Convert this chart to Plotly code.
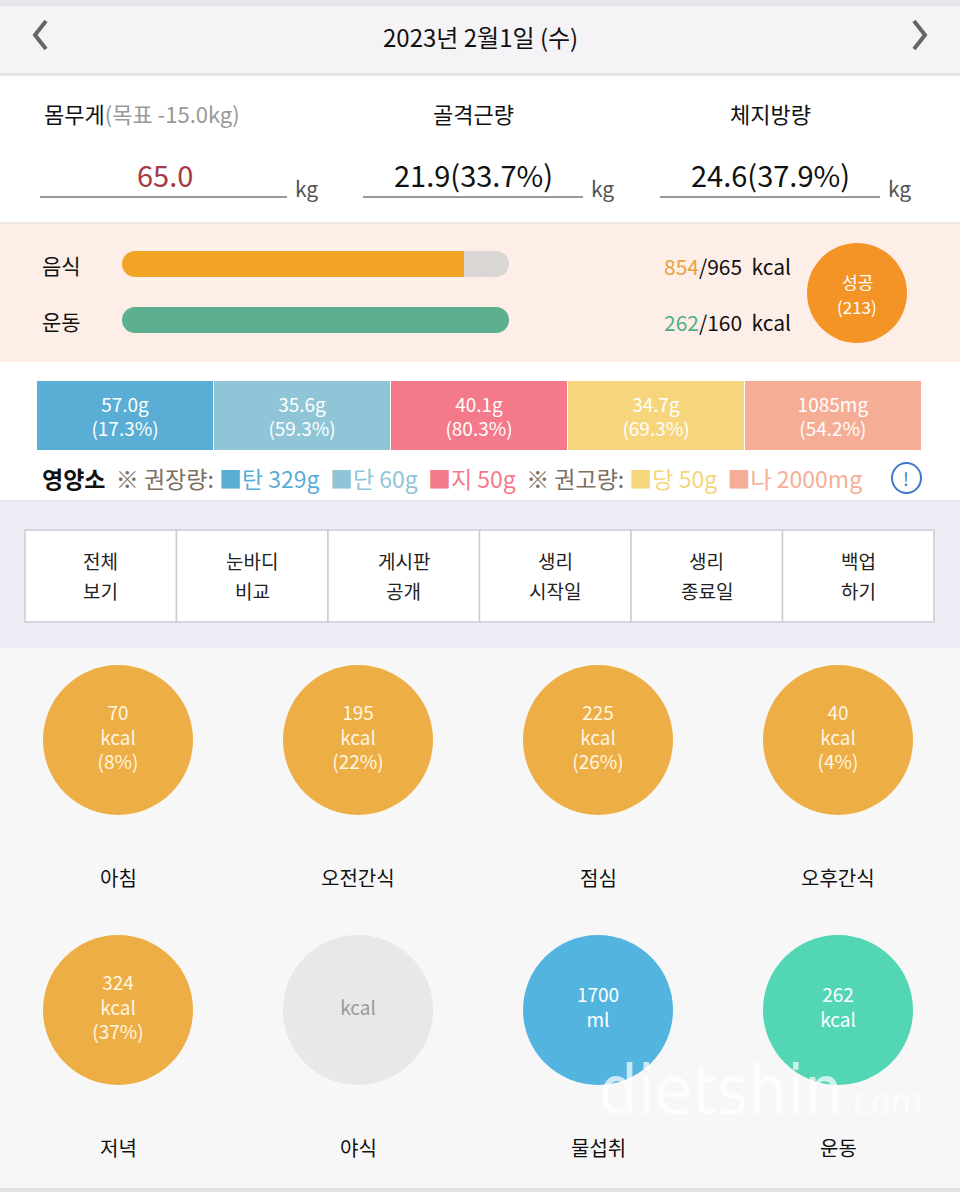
import plotly.graph_objects as go

W, H = 960, 1192
FONT = "Noto Sans CJK KR"

# ---- data ----
date_label = "2023년 2월1일 (수)"
body_labels = ["몸무게", "골격근량", "체지방량"]
goal_note = "(목표 -15.0kg)"
body_values = ["65.0", "21.9(33.7%)", "24.6(37.9%)"]
body_value_colors = ["#a63a48", "#111111", "#111111"]

intake_labels = ["음식", "운동"]
intake_actual = [854, 262]
intake_target = [965, 160]
intake_colors = ["#f2a424", "#5cb08f"]
success_label = "성공"
success_score = 213

nutr_names = ["탄", "단", "지", "당", "나"]
nutr_amounts = ["57.0g", "35.6g", "40.1g", "34.7g", "1085mg"]
nutr_pct = [17.3, 59.3, 80.3, 69.3, 54.2]
nutr_recommend = ["329g", "60g", "50g", "50g", "2000mg"]
nutr_colors = ["#5aaed5", "#8fc5d7", "#f47a8b", "#f6d57d", "#f5ae95"]

menu_top = ["전체", "눈바디", "게시판", "생리", "생리", "백업"]
menu_bottom = ["보기", "비교", "공개", "시작일", "종료일", "하기"]

slot_labels = ["아침", "오전간식", "점심", "오후간식", "저녁", "야식", "물섭취", "운동"]
slot_kind = ["meal", "meal", "meal", "meal", "meal", "meal", "water", "exercise"]
slot_values = [70, 195, 225, 40, 324, None, 1700, 262]
slot_pct = [8, 22, 26, 4, 37, None, None, None]

fig = go.Figure()
shapes = []
ann = []


def text(x, y, s, size=18, color="#111", xanchor="center", **kw):
    ann.append(dict(x=x, y=y, text=s, showarrow=False, xanchor=xanchor,
                    yanchor="middle", font=dict(family=FONT, size=size, color=color), **kw))


def rect(x0, y0, x1, y1, fill, line=None, lw=0):
    shapes.append(dict(type="rect", x0=x0, y0=y0, x1=x1, y1=y1, fillcolor=fill,
                       line=dict(color=line or fill, width=lw), layer="below"))


# ---- section backgrounds ----
rect(0, 0, W, 6, "#e8e6ea")
rect(0, 6, W, 73, "#f6f3f6")
rect(0, 73, W, 76, "#e6e3e7")
rect(0, 76, W, 222, "#ffffff")
rect(0, 222, W, 224, "#efe7e2")
rect(0, 224, W, 362, "#fdefe8")
rect(0, 362, W, 500, "#ffffff")
rect(0, 500, W, 502, "#e9e9ee")
rect(0, 502, W, 648, "#edeef6")
rect(0, 648, W, 1188, "#f7f7f7")
rect(0, 1188, W, H, "#e2e2e2")

# ---- header ----
text(480, 36, date_label, size=24)
shapes.append(dict(type="path", path="M 46 21 L 35 35 L 46 49", line=dict(color="#666", width=4)))
shapes.append(dict(type="path", path="M 914 21 L 925 35 L 914 49", line=dict(color="#666", width=4)))

# ---- body composition ----
col_x = [165, 473, 770]
line_x = [(40, 287), (363, 583), (660, 880)]
for i in range(3):
    lab = body_labels[i]
    if i == 0:
        text(42, 113, lab + "<span style='color:#999'>" + goal_note + "</span>", size=22, xanchor="left")
    else:
        text(col_x[i], 113, lab, size=22)
    text(col_x[i], 174, body_values[i], size=29, color=body_value_colors[i])
    shapes.append(dict(type="line", x0=line_x[i][0], x1=line_x[i][1], y0=197, y1=197,
                       line=dict(color="#777", width=1.5)))
    text(line_x[i][1] + 19, 188, "kg", size=21, color="#555")

# ---- food / exercise progress ----
bar_y = [264, 320]
r = 13 / 387
for i in range(2):
    frac = intake_actual[i] / intake_target[i]
    end = min(frac, 1 - r)
    fig.add_trace(go.Bar(x=[end - r], base=[r], y=[bar_y[i]], orientation="h", width=26,
                         marker=dict(color=intake_colors[i], line=dict(width=0)),
                         xaxis="x2", yaxis="y", hoverinfo="skip", showlegend=False))
    ends_x, ends_c = [r], [intake_colors[i]]
    if frac < 1:
        fig.add_trace(go.Bar(x=[1 - r - end], base=[end], y=[bar_y[i]], orientation="h", width=26,
                             marker=dict(color="#d9d6d3", line=dict(width=0)),
                             xaxis="x2", yaxis="y", hoverinfo="skip", showlegend=False))
        ends_c.append("#d9d6d3")
    else:
        ends_c.append(intake_colors[i])
    ends_x.append(1 - r)
    fig.add_trace(go.Scatter(x=ends_x, y=[bar_y[i]] * 2, mode="markers", xaxis="x2", yaxis="y",
                             marker=dict(size=26, color=ends_c, line=dict(width=0)),
                             hoverinfo="skip", showlegend=False))
    text(40, bar_y[i] + 1, intake_labels[i], size=21, xanchor="left")
    num_color = "#e8a33a" if i == 0 else "#4fae8a"
    text(793, bar_y[i] + 2,
         f"<span style='color:{num_color}'>{intake_actual[i]}</span>/{intake_target[i]}  kcal",
         size=21, xanchor="right")

fig.add_trace(go.Scatter(x=[857], y=[293], mode="markers",
                         marker=dict(size=100, color="#f59426", line=dict(width=0)),
                         hoverinfo="skip", showlegend=False))
text(857, 281, success_label, size=17, color="#ffffff")
text(857, 306, f"({success_score})", size=17, color="#ffffff")

# ---- nutrients ----
fig.add_trace(go.Bar(x=[1] * 5, base=list(range(5)), y=[416] * 5, orientation="h", width=70,
                     marker=dict(color=nutr_colors, line=dict(color="#ffffff", width=1)),
                     text=[f"{a}<br>({p}%)" for a, p in zip(nutr_amounts, nutr_pct)],
                     textposition="inside", insidetextanchor="middle",
                     textfont=dict(family=FONT, size=19, color="#ffffff"),
                     xaxis="x3", yaxis="y", hoverinfo="skip", showlegend=False))

leg = "<b>영양소</b>  <span style='color:#7d6f62'>※ 권장량:</span> "
for k in range(3):
    leg += f"<span style='color:{nutr_colors[k]}'>■{nutr_names[k]} {nutr_recommend[k]}</span>  "
leg += "<span style='color:#7d6f62'>※ 권고량:</span> "
for k in range(3, 5):
    leg += f"<span style='color:{nutr_colors[k]}'>■{nutr_names[k]} {nutr_recommend[k]}</span>  "
text(40, 478, leg.rstrip(), size=23, xanchor="left")
shapes.append(dict(type="circle", x0=892, x1=921, y0=463, y1=493, line=dict(color="#3f78c9", width=2)))
text(906, 478, "!", size=18, color="#3f78c9")

# ---- menu buttons ----
x0, x1, cy0, cy1 = 25, 934, 530, 622
cw = (x1 - x0) / len(menu_top)
for k in range(len(menu_top)):
    rect(x0 + k * cw, cy0, x0 + (k + 1) * cw, cy1, "#ffffff", "#c9cdd5", 1.5)
    cx = x0 + (k + 0.5) * cw
    text(cx, 560, menu_top[k], size=19, color="#222")
    text(cx, 590, menu_bottom[k], size=19, color="#222")

# ---- slot circles ----
kind_color = {"meal": "#eeae46", "water": "#53b5df", "exercise": "#52d6b4"}
cx_list, cy_list, colors, labels_txt, tcolors = [], [], [], [], []
for k, lab in enumerate(slot_labels):
    col, row = k % 4, k // 4
    cx = 118 + 240 * col
    cy = 740 + 270 * row
    v = slot_values[k]
    if slot_kind[k] == "meal":
        if v is None:
            c, t, tc = "#e8e8e8", "kcal", "#9a9a9a"
        else:
            c, t, tc = kind_color["meal"], f"{v}<br>kcal<br>({slot_pct[k]}%)", "#fff6e2"
    elif slot_kind[k] == "water":
        c, t, tc = kind_color["water"], f"{v}<br>ml", "#ffffff"
    else:
        c, t, tc = kind_color["exercise"], f"{v}<br>kcal", "#ffffff"
    cx_list.append(cx); cy_list.append(cy); colors.append(c); labels_txt.append(t); tcolors.append(tc)
    text(cx, cy + 137, lab, size=20, color="#111")

fig.add_trace(go.Scatter(x=cx_list, y=cy_list, mode="markers+text", text=labels_txt,
                         textposition="middle center",
                         textfont=dict(family=FONT, size=19, color=tcolors),
                         marker=dict(size=150, color=colors, line=dict(width=0)),
                         hoverinfo="skip", showlegend=False))

# watermark
ann.append(dict(x=760, y=1090, text="dietshin<span style='font-size:36px'>.com</span>", showarrow=False,
                font=dict(family="DejaVu Sans Condensed, Liberation Sans Narrow, sans-serif", size=68,
                          color="rgba(255,255,255,0.7)")))

fig.update_layout(
    width=W, height=H, margin=dict(l=0, r=0, t=0, b=0),
    paper_bgcolor="#ffffff", plot_bgcolor="rgba(0,0,0,0)",
    barmode="overlay", bargap=0,
    xaxis=dict(range=[0, W], visible=False, fixedrange=True),
    yaxis=dict(range=[H, 0], visible=False, fixedrange=True),
    xaxis2=dict(domain=[122 / W, 509 / W], range=[0, 1], visible=False, anchor="y", fixedrange=True),
    xaxis3=dict(domain=[37 / W, 922 / W], range=[0, 5], visible=False, anchor="y", fixedrange=True),
    shapes=shapes, annotations=ann, showlegend=False,
)

fig.write_html("out.html", config={"displayModeBar": False},
               post_script="document.body.style.margin='0';document.body.style.overflow='hidden';")
